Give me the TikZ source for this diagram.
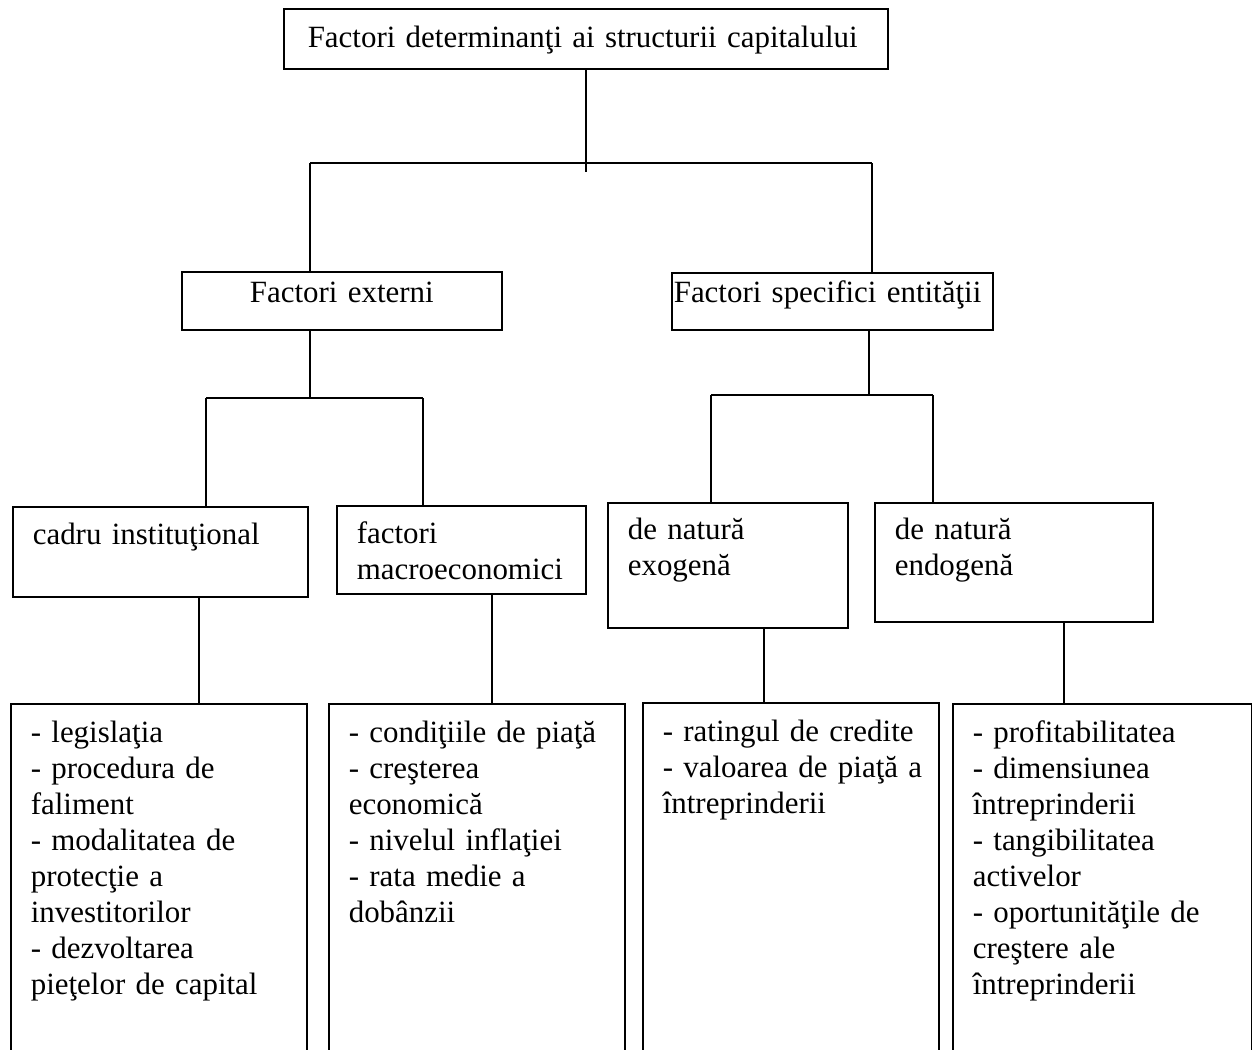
\documentclass[tikz,border=0pt]{standalone}
\usepackage{fontspec}
\setmainfont{Liberation Serif}
\newcommand{\boxlines}[1]{\begin{tabular}[t]{@{}l@{}}#1\end{tabular}}
\begin{document}
\begin{tikzpicture}[x=0.375pt, y=-0.375pt, line width=0.6pt,
    box/.style={draw, anchor=north west, inner ysep=0pt, align=left,
        font=\fontsize{11.6}{13.5}\selectfont},
    listbox/.style={box, text width=96pt, inner xsep=7.5pt, text height=14.625pt, text depth=160pt}]
    \useasboundingbox (0,0) rectangle (1252,1050);
    \clip (0,0) rectangle (1252,1050);

    % Define boxes
    \node[box, text width=208.5pt, inner xsep=9pt, text height=14.625pt, text depth=7.875pt] (top) at (283,8)
        {\boxlines{Factori determinanţi ai structurii capitalului}};
    \node[box, align=center, text width=120pt, inner xsep=0pt, text height=11.625pt, text depth=10.125pt] (ext) at (181,271)
        {\boxlines{Factori externi}};
    \node[box, text width=118.875pt, inner xsep=0.75pt, text height=11.25pt, text depth=10.125pt] (spec) at (671,272)
        {\boxlines{Factori specifici entităţii}};
    \node[box, text width=95.625pt, inner xsep=7.5pt, text height=14.25pt, text depth=19.5pt] (inst) at (12,506)
        {\boxlines{cadru instituţional}};
    \node[box, text width=78.375pt, inner xsep=7.5pt, text height=14.25pt, text depth=18.75pt] (macro) at (336,505)
        {\boxlines{factori\\macroeconomici}};
    \node[box, text width=75pt, inner xsep=7.5pt, text height=13.875pt, text depth=33pt] (exo) at (607,502)
        {\boxlines{de natură\\exogenă}};
    \node[box, text width=89.25pt, inner xsep=7.5pt, text height=13.875pt, text depth=30.75pt] (endo) at (874,502)
        {\boxlines{de natură\\endogenă}};

    % Lists (open at the bottom)
    \node[listbox] (listinst) at (10,703)
        {\boxlines{- legislaţia\\- procedura de\\faliment\\- modalitatea de\\protecţie a\\investitorilor\\- dezvoltarea\\pieţelor de capital}};
    \node[listbox] (listmacro) at (328,703)
        {\boxlines{- condiţiile de piaţă\\- creşterea\\economică\\- nivelul inflaţiei\\- rata medie a\\dobânzii}};
    \node[listbox] (listexo) at (642,702)
        {\boxlines{- ratingul de credite\\- valoarea de piaţă a\\întreprinderii}};
    \node[listbox, text width=97pt] (listendo) at (952,703)
        {\boxlines{- profitabilitatea\\- dimensiunea\\întreprinderii\\- tangibilitatea\\activelor\\- oportunităţile de\\creştere ale\\întreprinderii}};

    % Junctions
    \coordinate (j1l) at (310,163);
    \coordinate (j1r) at (872,163);
    \coordinate (j2) at (310,398);
    \coordinate (j2l) at (206,398);
    \coordinate (j2r) at (423,398);
    \coordinate (j3) at (869,395);
    \coordinate (j3l) at (711,395);
    \coordinate (j3r) at (933,395);
    \coordinate (d1) at (199,0);
    \coordinate (d2) at (492,0);
    \coordinate (d3) at (764,0);
    \coordinate (d4) at (1064,0);

    % Connectors
    \draw (top.south) -- ++(0,102);
    \draw (j1l) -- (j1r);
    \draw (j1l) -- (j1l |- ext.north);
    \draw (j1r) -- (j1r |- spec.north);

    \draw (j2 |- ext.south) -- (j2);
    \draw (j2l) -- (j2r);
    \draw (j2l) -- (j2l |- inst.north);
    \draw (j2r) -- (j2r |- macro.north);

    \draw (j3 |- spec.south) -- (j3);
    \draw (j3l) -- (j3r);
    \draw (j3l) -- (j3l |- exo.north);
    \draw (j3r) -- (j3r |- endo.north);

    \draw (d1 |- inst.south) -- (d1 |- listinst.north);
    \draw (d2 |- macro.south) -- (d2 |- listmacro.north);
    \draw (d3 |- exo.south) -- (d3 |- listexo.north);
    \draw (d4 |- endo.south) -- (d4 |- listendo.north);

\end{tikzpicture}
\end{document}
